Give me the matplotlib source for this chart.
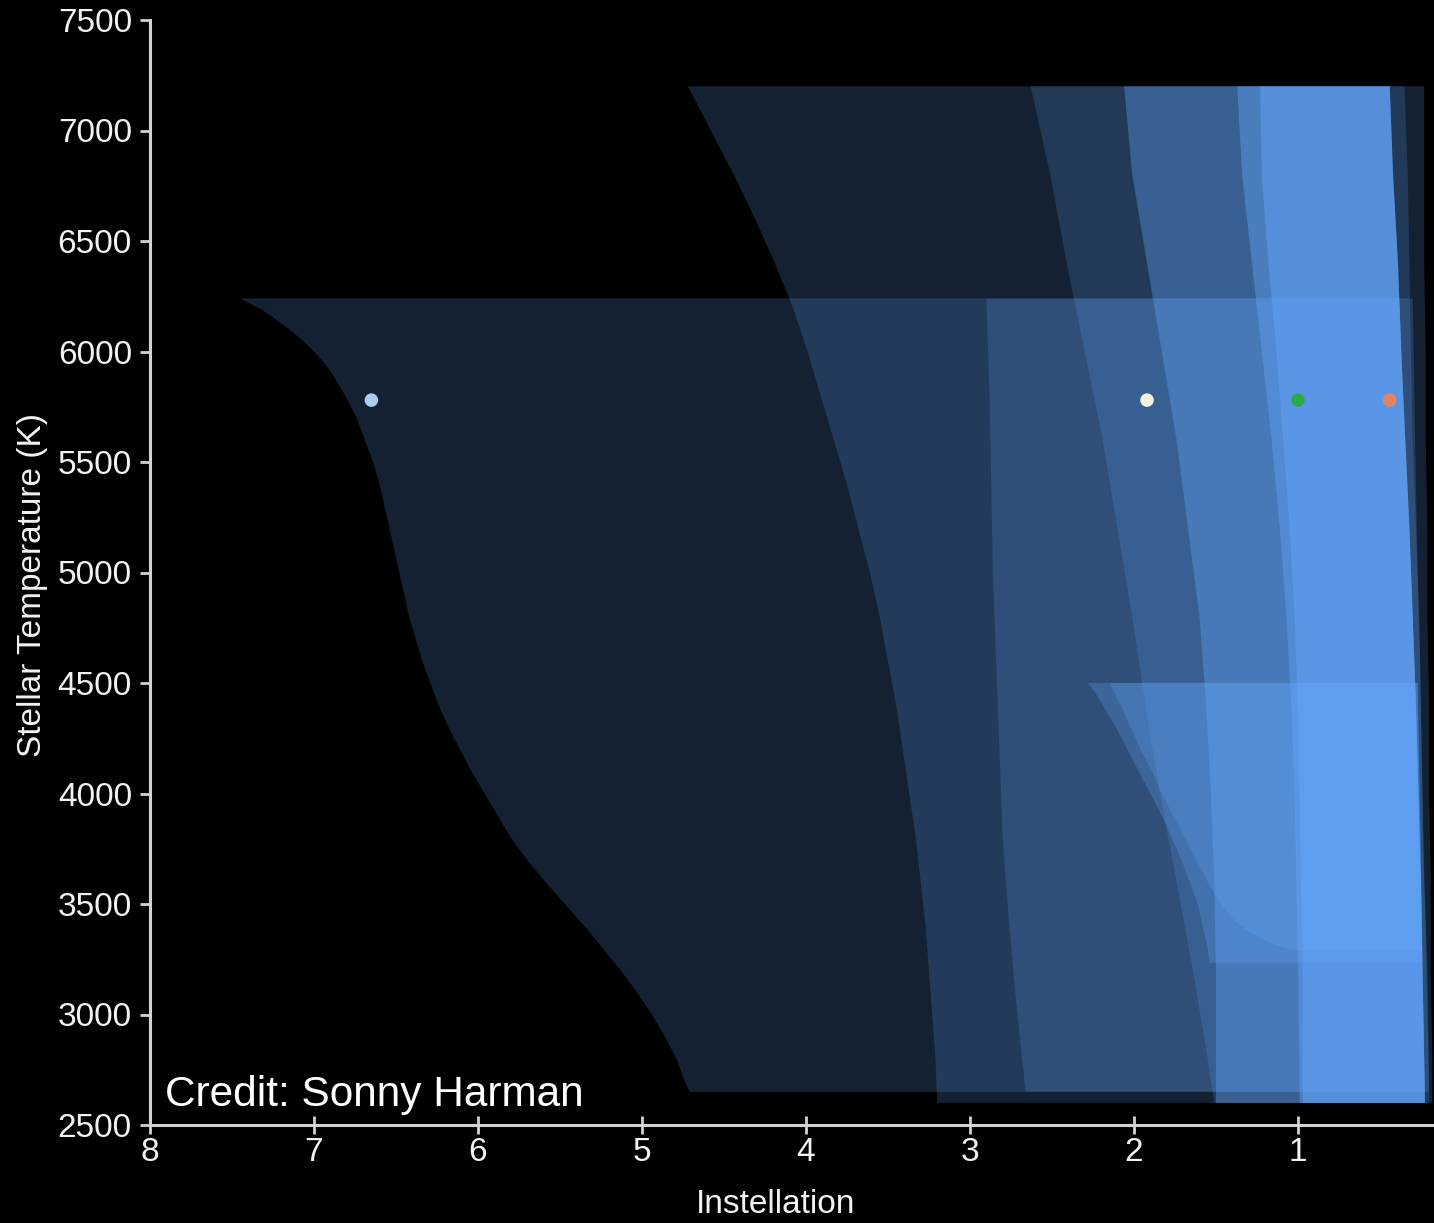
import numpy as np
import matplotlib
matplotlib.use("Agg")
import matplotlib.pyplot as plt

plt.rcParams['font.family'] = ['Liberation Sans', 'DejaVu Sans']

# ---------------- data ----------------
# Set A bands: stellar temperature range 2650-6240 K
A1_in_T = [6240, 6220, 6190, 6150, 6100, 6050, 6000, 5950, 5900, 5800, 5700, 5600, 5500,
           5400, 5300, 5200, 5100, 5000, 4900, 4800, 4700, 4600, 4500, 4400, 4300, 4200,
           4100, 4000, 3900, 3800, 3700, 3600, 3500, 3400, 3300, 3200, 3100, 3000, 2900,
           2800, 2700, 2650]
A1_in_S = [7.45, 7.40, 7.32, 7.24, 7.15, 7.07, 7.00, 6.94, 6.89, 6.81, 6.74, 6.69, 6.64,
           6.60, 6.57, 6.54, 6.51, 6.48, 6.45, 6.42, 6.38, 6.34, 6.29, 6.24, 6.18, 6.11,
           6.04, 5.96, 5.88, 5.80, 5.70, 5.59, 5.47, 5.35, 5.24, 5.13, 5.03, 4.94, 4.86,
           4.79, 4.74, 4.71]
A_T = [6240, 5800, 5400, 5000, 4600, 4200, 3800, 3400, 3000, 2650]
A1_out_S = [0.30, 0.29, 0.28, 0.27, 0.255, 0.245, 0.235, 0.22, 0.21, 0.20]
A2_in_S = [2.90, 2.88, 2.87, 2.86, 2.84, 2.82, 2.80, 2.76, 2.71, 2.66]
A2_out_S = [0.38, 0.36, 0.335, 0.31, 0.29, 0.275, 0.26, 0.245, 0.235, 0.225]

# Set B bands: stellar temperature range 2600-7200 K
B1_in_T = [7200, 7000, 6800, 6600, 6400, 6200, 6000, 5800, 5600, 5400, 5200, 5000,
           4800, 4600, 4400, 4200, 4000, 3800, 3600, 3400, 3200, 3000, 2800, 2600]
B1_in_S = [4.72, 4.58, 4.44, 4.31, 4.19, 4.08, 3.99, 3.91, 3.83, 3.75, 3.68, 3.61,
           3.55, 3.50, 3.45, 3.41, 3.37, 3.33, 3.30, 3.27, 3.25, 3.23, 3.21, 3.20]
B_T = [7200, 6800, 6400, 6000, 5600, 5200, 4800, 4400, 4000, 3600, 3200, 2800, 2600]
B1_out_S = [0.23, 0.23, 0.23, 0.22, 0.22, 0.21, 0.21, 0.20, 0.20, 0.19, 0.19, 0.18, 0.18]
B2_in_S = [2.63, 2.51, 2.41, 2.30, 2.19, 2.10, 2.01, 1.93, 1.84, 1.74, 1.64, 1.55, 1.51]
B2_out_S = [0.35, 0.33, 0.32, 0.31, 0.30, 0.28, 0.26, 0.25, 0.24, 0.23, 0.21, 0.20, 0.20]
B3_in_S = [2.06, 2.01, 1.92, 1.83, 1.74, 1.67, 1.60, 1.56, 1.53, 1.51, 1.50, 1.50, 1.50]
B4_in_S = [1.37, 1.34, 1.28, 1.22, 1.16, 1.11, 1.07, 1.04, 1.02, 1.01, 1.00, 0.99, 0.99]
B5_in_S = [1.23, 1.22, 1.18, 1.13, 1.09, 1.05, 1.02, 1.00, 0.99, 0.98, 0.97, 0.97, 0.97]
B_out_S = [0.44, 0.42, 0.39, 0.37, 0.345, 0.32, 0.30, 0.28, 0.265, 0.25, 0.24, 0.23, 0.225]

# Set C bands: cool stars, 3235-4500 K
C1_in_T = [4500, 4450, 4400, 4300, 4200, 4100, 4000, 3900, 3800, 3700, 3600, 3500,
           3400, 3300, 3235]
C1_in_S = [2.28, 2.23, 2.19, 2.11, 2.04, 1.97, 1.90, 1.83, 1.77, 1.71, 1.66, 1.61,
           1.58, 1.55, 1.54]
C1_out_T = [4500, 3900, 3235]
C1_out_S = [0.27, 0.255, 0.24]
C2_in_T = [4500, 4400, 4300, 4200, 4100, 4000, 3900, 3800, 3700, 3600, 3500, 3420,
           3370, 3335, 3310, 3295, 3290]
C2_in_S = [2.15, 2.08, 2.02, 1.96, 1.89, 1.83, 1.76, 1.69, 1.62, 1.55, 1.47, 1.38,
           1.29, 1.20, 1.12, 1.04, 0.98]
C2_out_T = [4500, 3900, 3290]
C2_out_S = [0.27, 0.255, 0.24]

# Solar-system planets (Teff of the Sun)
planet_names = ["Mercury", "Venus", "Earth", "Mars"]
planet_S = [6.65, 1.92, 1.00, 0.44]
planet_T = [5780, 5780, 5780, 5780]
planet_colors = ["#a9cdee", "#f6f1dc", "#2caa4a", "#e6845e"]

x_ticks = [8, 7, 6, 5, 4, 3, 2, 1]
y_ticks = [2500, 3000, 3500, 4000, 4500, 5000, 5500, 6000, 6500, 7000, 7500]

# ---------------- figure ----------------
W, H = 1434, 1223
fig = plt.figure(figsize=(W / 100, H / 100), dpi=100, facecolor="black")
ax = fig.add_axes([150 / W, (H - 1125) / H, (W - 150) / W, (1125 - 20) / H])
ax.set_facecolor("black")

band_color = "#64a8ff"


def band(in_S, in_T, out_S, out_T, alpha):
    xs = list(in_S) + list(out_S)[::-1]
    ys = list(in_T) + list(out_T)[::-1]
    ax.fill(xs, ys, color=band_color, alpha=alpha, lw=0, zorder=1)


band(A1_in_S, A1_in_T, A1_out_S, A_T, 0.20)
band(A2_in_S, A_T, A2_out_S, A_T, 0.19)
band(B1_in_S, B1_in_T, B1_out_S, B_T, 0.20)
band(B2_in_S, B_T, B2_out_S, B_T, 0.19)
band(B3_in_S, B_T, B_out_S, B_T, 0.35)
band(B4_in_S, B_T, B_out_S, B_T, 0.41)
band(B5_in_S, B_T, B_out_S, B_T, 0.43)
band(C1_in_S, C1_in_T, C1_out_S, C1_out_T, 0.25)
band(C2_in_S, C2_in_T, C2_out_S, C2_out_T, 0.25)

ax.scatter(planet_S, planet_T, s=95, c=planet_colors, edgecolors="none", zorder=5)

ax.set_xlim(8, 0.17)
ax.set_ylim(2500, 7500)
ax.set_xticks(x_ticks)
ax.set_xticklabels([str(v) for v in x_ticks])
ax.set_yticks(y_ticks)
ax.set_yticklabels([str(v) for v in y_ticks])

axis_col = "#d2d2d2"
for side in ["top", "right"]:
    ax.spines[side].set_visible(False)
for side in ["left", "bottom"]:
    ax.spines[side].set_color(axis_col)
    ax.spines[side].set_linewidth(2.2)
    ax.spines[side].set_zorder(6)

ax.tick_params(axis="x", direction="inout", length=13, width=2, color=axis_col,
               labelcolor="#f2f2f2", labelsize=24, pad=2)
ax.tick_params(axis="y", direction="out", length=7, width=2, color=axis_col,
               labelcolor="#f2f2f2", labelsize=24, pad=6)

ax.set_xlabel("Instellation", color="#f2f2f2", fontsize=24)
ax.xaxis.set_label_coords(0.4875, -0.058)
ax.set_ylabel("Stellar Temperature (K)", color="#f2f2f2", fontsize=24)
ax.yaxis.set_label_coords(-0.0795, 0.489)

fig.text(165 / W, 1 - 1106 / H, "Credit: Sonny Harman", color="white",
         fontsize=30.5, ha="left", va="baseline")

fig.savefig("out.png", dpi=100, facecolor="black")
